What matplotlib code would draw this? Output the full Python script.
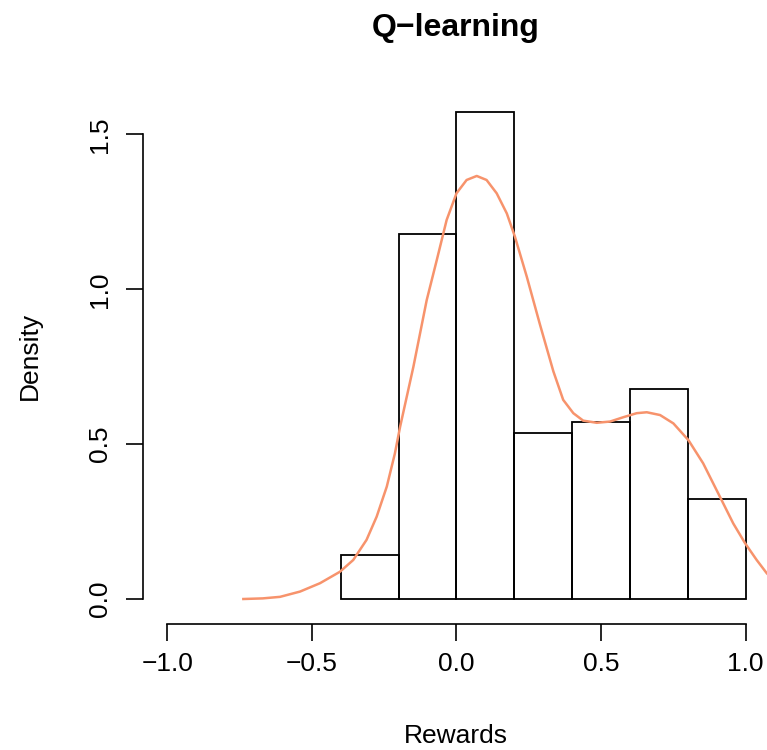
import matplotlib.pyplot as plt

plt.rcParams['font.family'] = ['Liberation Sans', 'DejaVu Sans']

# histogram of rewards (counts per 0.2-wide bin, n = 140)
bin_edges = [-0.4, -0.2, 0.0, 0.2, 0.4, 0.6, 0.8, 1.0]
counts = [4, 33, 44, 15, 16, 19, 9]
n_total = sum(counts)
bin_width = 0.2
density = [c / (n_total * bin_width) for c in counts]

# density curve
curve_x = [-0.737, -0.67, -0.61, -0.541, -0.472, -0.403, -0.357, -0.311,
           -0.276, -0.241, -0.213, -0.195, -0.149, -0.103, -0.068, -0.034,
           0.0, 0.035, 0.07, 0.104, 0.139, 0.174, 0.202, 0.243, 0.289, 0.335,
           0.369, 0.404, 0.438, 0.485, 0.531, 0.577, 0.623, 0.658, 0.704,
           0.75, 0.802, 0.853, 0.911, 0.957, 0.998, 1.038, 1.073, 1.1]
curve_y = [0.0, 0.002, 0.007, 0.024, 0.051, 0.088, 0.126, 0.191,
           0.266, 0.363, 0.47, 0.556, 0.75, 0.965, 1.095, 1.224,
           1.31, 1.353, 1.366, 1.353, 1.31, 1.245, 1.17, 1.041, 0.885, 0.735,
           0.643, 0.6, 0.576, 0.569, 0.573, 0.587, 0.6, 0.603, 0.594,
           0.567, 0.513, 0.438, 0.33, 0.244, 0.18, 0.126, 0.083, 0.058]

W, H = 767, 750
fig = plt.figure(figsize=(W / 100, H / 100), dpi=100)
ax = fig.add_axes([143 / W, (H - 624) / H, (W - 143) / W, (624 - 88) / H])

ax.bar(bin_edges[:-1], density, width=bin_width, align='edge',
       fill=False, edgecolor='black', linewidth=1.3)
ax.plot(curve_x, curve_y, color='#F7936C', linewidth=1.8,
        solid_joinstyle='round')

ax.set_xlim(-1.084, 1.0737)
ax.set_ylim(-0.0807, 1.65)

for s in ['top', 'right']:
    ax.spines[s].set_visible(False)
ax.spines['left'].set_bounds(0, 1.5)
ax.spines['bottom'].set_bounds(-1, 1)
for s in ['left', 'bottom']:
    ax.spines[s].set_linewidth(1.2)

ax.set_xticks([-1.0, -0.5, 0.0, 0.5, 1.0])
ax.set_xticklabels(['\u22121.0', '\u22120.5', '0.0', '0.5', '1.0'])
ax.set_yticks([0.0, 0.5, 1.0, 1.5])
ax.set_yticklabels(['0.0', '0.5', '1.0', '1.5'], rotation=90, va='center')
ax.tick_params(axis='both', length=12.5, width=1.2, labelsize=19, pad=8,
               colors='black')
ax.tick_params(axis='y', pad=10)

fig.text(456 / W, 1 - 28 / H, 'Q\u2212learning', ha='center', va='center',
         fontsize=23, fontweight='bold')
fig.text(456 / W, 1 - 736 / H, 'Rewards', ha='center', va='center', fontsize=19)
fig.text(30 / W, 1 - 356 / H, 'Density', ha='center', va='center',
         fontsize=19, rotation=90)

fig.savefig('out.png', dpi=100)
